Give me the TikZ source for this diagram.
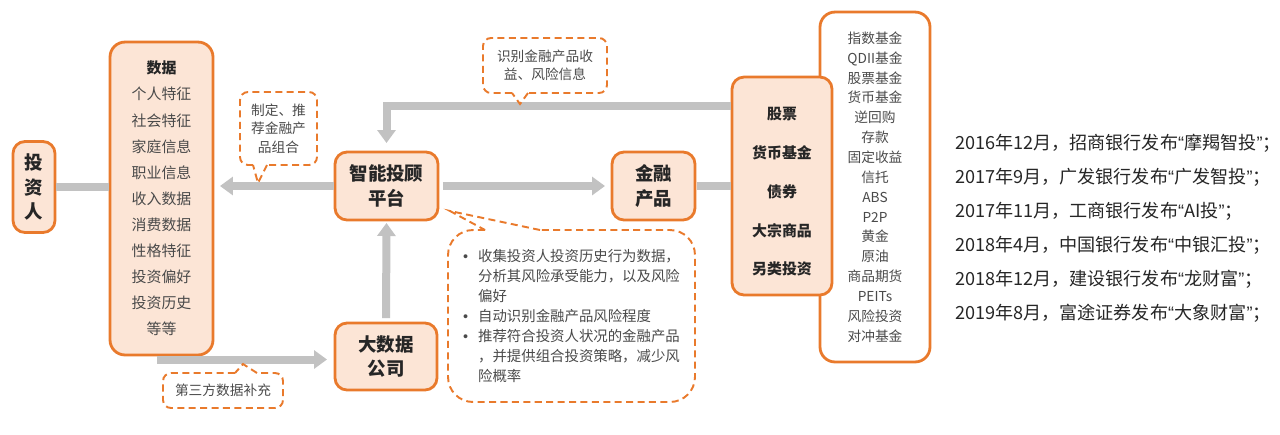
\documentclass[tikz,border=0pt]{standalone}
\usepackage{fontspec}
\setmainfont{Noto Sans CJK SC}
\newfontfamily\quotefont{Liberation Sans}
\usepackage{xcolor}
\usepackage{tikz}
\usetikzlibrary{positioning,arrows.meta}

\definecolor{brandorange}{HTML}{E97A2C}
\definecolor{peach}{HTML}{FCE5D6}
\definecolor{flowgray}{HTML}{C2C2C2}
\definecolor{inkgray}{HTML}{4A4A4A}
\definecolor{inkdark}{HTML}{262626}
\newcommand{\oq}{{\quotefont “}}
\newcommand{\cq}{{\quotefont ”}}
\newcommand{\dotitem}{\makebox[0.3cm][l]{\quotefont •}}

\begin{document}
\begin{tikzpicture}[
        x=0.02cm, y=-0.02cm,
        every node/.style={align=center, inner sep=0pt, outer sep=0pt, text=inkgray},
        hub/.style={rectangle, draw=brandorange, fill=peach, line width=1.6pt, rounded corners=0.24cm, text=inkdark, font=\bfseries\fontsize{10.5}{14.2}\selectfont},
        listbox/.style={rectangle, draw=brandorange, fill=white, line width=1.6pt, rounded corners=0.3cm},
        hint/.style={rectangle, font=\fontsize{7.8}{10.5}\selectfont},
        hintline/.style={draw=brandorange, dash pattern=on 4pt off 2.5pt, line width=1.1pt},
        flow/.style={draw=flowgray, line width=0.16cm},
        headed/.style={-{Triangle[width=0.36cm, length=0.26cm]}}
    ]
        \useasboundingbox (0,0) rectangle (1280,434);

        \node[hub, minimum width=0.84cm, minimum height=1.82cm] (inv) at (34,187) {投\\资\\人};
        \node[hub, minimum width=2.06cm, minimum height=6.26cm, rounded corners=0.3cm, text=inkgray, font=\fontsize{8.5}{14.85}\selectfont] (data) at (161.5,198.5) {\textcolor{inkdark}{\textbf{数据}}\\个人特征\\社会特征\\家庭信息\\职业信息\\收入数据\\消费数据\\性格特征\\投资偏好\\投资历史\\等等};
        \node[hub, minimum width=2.06cm, minimum height=1.36cm] (platform) at (386.5,186) {智能投顾\\平台};
        \node[hub, minimum width=1.66cm, minimum height=1.36cm] (prod) at (653.5,186) {金融\\产品};
        \node[hub, minimum width=2.04cm, minimum height=1.34cm] (bigdata) at (386,356.5) {大数据\\公司};
        \node[listbox, minimum width=2.2cm, minimum height=7cm, font=\fontsize{7.8}{11.3}\selectfont] (detail) at (875,187) {指数基金\\QDII基金\\股票基金\\货币基金\\逆回购\\存款\\固定收益\\信托\\ABS\\P2P\\黄金\\原油\\商品期货\\PEITs\\风险投资\\对冲基金};
        \node[hub, minimum width=2cm, minimum height=4.36cm, font=\bfseries\fontsize{8.5}{22.1}\selectfont] (cat) at (782,186) {\\[-0.3cm]股票\\货币基金\\债券\\大宗商品\\另类投资};

        \node[hint, minimum width=1.54cm, minimum height=1.46cm] (hintA) at (278.5,128.5) {制定、推\\荐金融产\\品组合};
        \node[hint, minimum width=2.48cm, minimum height=1.1cm] (hintB) at (545,65.5) {识别金融产品收\\益、风险信息};
        \node[hint, minimum width=2.4cm, minimum height=0.7cm] (hintC) at (223,390.5) {第三方数据补充};
        \node[hint, align=left, minimum width=4.94cm, minimum height=3.44cm, font=\fontsize{8.2}{11.3}\selectfont] (hintD) at (571.5,316) {\dotitem 收集投资人投资历史行为数据，\\\hspace*{0.3cm}分析其风险承受能力，以及风险\\\hspace*{0.3cm}偏好\\\dotitem 自动识别金融产品风险程度\\\dotitem 推荐符合投资人状况的金融产品\\\hspace*{0.3cm}，并提供组合投资策略，减少风\\\hspace*{0.3cm}险概率};

        \node[anchor=west, align=left, text=inkdark, font=\fontsize{10.3}{19.3}\selectfont] (launch) at (955,228) {2016年12月，招商银行发布\oq 摩羯智投\cq；\\2017年9月，广发银行发布\oq 广发智投\cq；\\2017年11月，工商银行发布\oq AI投\cq；\\2018年4月，中国银行发布\oq 中银汇投\cq；\\2018年12月，建设银行发布\oq 龙财富\cq；\\2019年8月，富途证券发布\oq 大象财富\cq；};

        \coordinate (back) at (731,106);
        \coordinate (supply) at (157,359.5);
        \draw[flow, shorten <=0.03cm, shorten >=0.03cm] (inv.east) -- (inv.east -| data.west);
        \draw[flow, headed, shorten <=0.03cm, shorten >=0.14cm] (platform.west) -- (platform.west -| data.east);
        \draw[flow, headed, shorten <=0.1cm, shorten >=0.14cm] (platform.east) -- (prod.west);
        \draw[flow, shorten <=0.03cm, shorten >=0.03cm] (prod.east) -- (prod.east -| cat.west);
        \draw[flow, headed, shorten >=0.18cm] (back) -| (platform.north);
        \draw[flow, headed, shorten <=0.1cm, shorten >=0.06cm] (bigdata.north) -- (platform.south);
        \draw[flow, headed, shorten >=0.16cm] (supply) -- (supply -| bigdata.west);

        \draw[hintline, rounded corners=0.16cm] (253,165) -- (hintA.south west) -- (hintA.north west) -- (hintA.north east) -- (hintA.south east) -- (267,165);
        \draw[hintline] (267,165) -- (258,183) -- (253,165);
        \draw[hintline, rounded corners=0.16cm] (512,93) -- (hintB.south west) -- (hintB.north west) -- (hintB.north east) -- (hintB.south east) -- (528,93);
        \draw[hintline] (528,93) -- (520,104) -- (512,93);
        \draw[hintline, rounded corners=0.16cm] (235,373) -- (hintC.north west) -- (hintC.south west) -- (hintC.south east) -- (hintC.north east) -- (257,373);
        \draw[hintline] (257,373) -- (243,364) -- (235,373);
        \draw[hintline, rounded corners=0.5cm] (485,230) -- (hintD.north west) -- (hintD.south west) -- (hintD.south east) -- (hintD.north east) -- (540,230);
        \draw[hintline] (540,230) -- (450,211) -- (485,230);
    \end{tikzpicture}
\end{document}
